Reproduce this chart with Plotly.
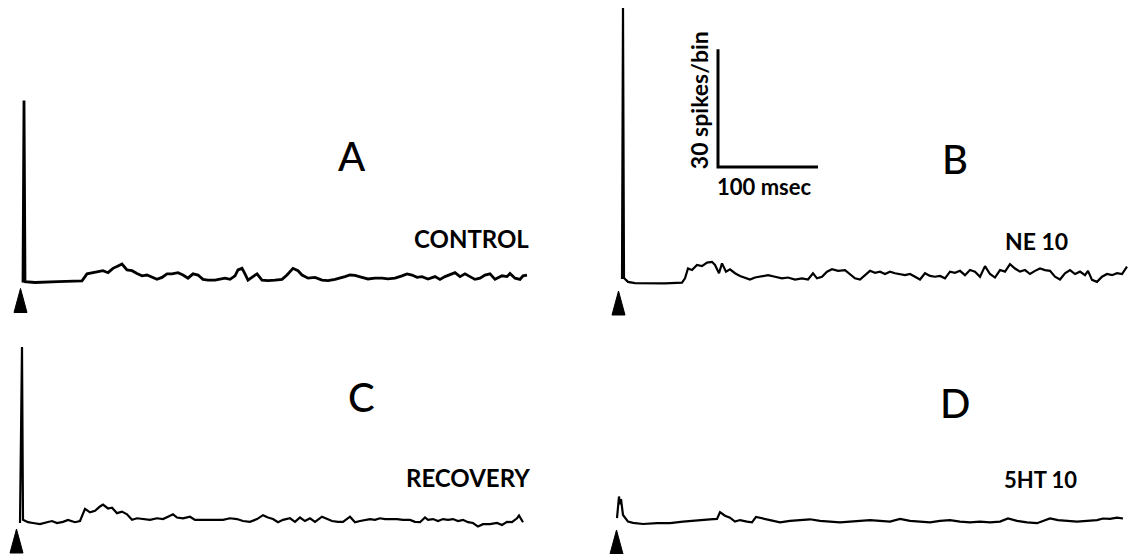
import plotly.graph_objects as go

# ---------------- data (time in ms from stimulus, counts in spikes/bin) ----------------
t_A = [-1, 0, 1, 11, 34, 58, 63, 68, 74, 79, 84, 89, 94, 98, 103, 108, 113, 118, 123, 128, 133, 138,
       143, 148, 154, 159, 164, 169, 174, 179, 184, 191, 196, 201, 206, 211, 214, 218, 221, 224, 229,
       233, 238, 244, 251, 258, 263, 266, 269, 274, 278, 284, 291, 298, 304, 311, 316, 321, 326, 331,
       338, 344, 351, 358, 364, 371, 378, 383, 388, 393, 398, 404, 411, 416, 421, 426, 431, 436, 441,
       446, 451, 456, 461, 466, 471, 478, 483, 486, 491, 496, 499, 503]
v_A = [0, 46.3, 0.2, 0, 0.2, 0.4, 2.2, 2.5, 2.8, 3.0, 2.5, 3.6, 4.2, 4.7, 3.2, 3.0, 2.3, 1.7, 1.9, 1.3,
       0.8, 1.3, 2.2, 2.2, 2.5, 1.9, 1.1, 2.2, 1.9, 0.8, 0.6, 0.6, 0.8, 1.1, 0.8, 1.7, 3.2, 3.6, 2.2,
       0.6, 1.5, 2.2, 0.6, 0.5, 0.6, 0.8, 1.9, 2.8, 3.6, 3.0, 1.9, 1.1, 1.3, 0.6, 0.5, 0.8, 1.1, 1.5,
       1.9, 1.8, 1.3, 0.9, 1.1, 1.1, 0.9, 1.1, 1.7, 2.2, 1.9, 1.3, 1.5, 0.9, 1.5, 0.8, 1.5, 1.9, 2.5,
       1.5, 2.2, 1.5, 0.8, 1.1, 1.9, 2.2, 0.8, 1.7, 1.5, 2.3, 1.1, 0.8, 1.7, 1.9]

t_B = [0, 1, 2, 6, 13, 26, 43, 60, 63, 66, 70, 75, 80, 85, 90, 93, 97, 100, 104, 108, 113, 118, 123,
       128, 133, 140, 146, 153, 160, 166, 173, 180, 186, 191, 195, 200, 205, 210, 216, 223, 228, 233,
       238, 243, 248, 253, 258, 263, 268, 273, 278, 283, 288, 293, 298, 303, 308, 313, 318, 323, 328,
       333, 338, 343, 348, 353, 358, 363, 368, 373, 378, 383, 388, 393, 398, 403, 408, 413, 418, 423,
       428, 433, 438, 443, 448, 453, 458, 463, 466, 470, 475, 480, 485, 490, 495, 500, 505]
v_B = [1.5, 70.5, 1.8, 0.8, 0.5, 0.4, 0.4, 0.6, 1.7, 4.2, 3.8, 5.1, 4.8, 5.7, 5.9, 5.1, 3.0, 5.5, 3.4,
       4.0, 3.0, 2.3, 1.9, 1.4, 1.9, 2.3, 2.5, 2.1, 1.7, 1.9, 1.4, 1.7, 1.4, 3.0, 1.7, 2.1, 3.4, 4.0,
       3.6, 3.8, 2.8, 1.7, 1.4, 2.5, 3.6, 3.1, 3.4, 2.8, 3.4, 3.0, 2.8, 2.5, 2.8, 2.1, 1.4, 3.0, 2.3,
       2.1, 2.3, 1.7, 3.4, 3.1, 3.6, 2.5, 3.8, 3.4, 2.1, 4.8, 2.8, 1.9, 3.8, 3.4, 5.3, 4.2, 3.4, 3.8,
       2.8, 3.6, 4.2, 3.8, 3.6, 2.1, 1.4, 3.0, 3.8, 2.8, 3.4, 2.5, 3.6, 1.3, 0.8, 2.1, 2.8, 2.5, 3.0,
       2.8, 4.7]

t_C = [0, 2, 3, 8, 13, 20, 27, 32, 37, 43, 48, 55, 60, 65, 70, 75, 80, 83, 88, 92, 97, 102, 107, 112,
       117, 123, 130, 137, 143, 148, 153, 157, 163, 170, 175, 183, 193, 203, 210, 217, 223, 230, 237,
       243, 248, 253, 258, 263, 270, 275, 280, 285, 290, 295, 302, 307, 312, 318, 323, 330, 335, 340,
       345, 350, 355, 360, 365, 370, 377, 383, 390, 395, 400, 405, 408, 413, 418, 423, 428, 433, 438,
       443, 448, 453, 458, 463, 470, 477, 482, 487, 492, 497, 499, 503]
v_C = [0, 44.8, 0.8, 0.2, 0, -0.3, 0.2, 0.5, 0, 0.3, 0.8, 0.2, 0.5, 3.6, 2.7, 3.1, 4.2, 4.7, 3.7, 3.9,
       2.5, 2.9, 2.2, 0.8, 1.2, 1.0, 0.8, 1.2, 1.0, 1.6, 2.2, 1.4, 1.2, 1.6, 0.8, 0.8, 0.8, 0.8, 1.2,
       1.0, 0.5, 0.3, 1.0, 2.0, 1.4, 1.0, 0.2, 0.8, 1.2, 0.3, 1.4, 0.5, 1.2, 0.3, 1.6, 1.0, 0.5, 0.3,
       0.3, 1.6, 0.2, 0.5, 0.8, 1.0, 0.8, 1.2, 1.0, 1.0, 1.0, 0.8, 0.8, 0.3, 0.2, 1.4, 0.8, 1.0, 0.5,
       1.0, 0.8, 1.0, 0.5, 0.8, 0.2, 0, -0.9, -0.3, -0.3, 0, -0.5, 0.3, 0.2, 1.2, 1.9, 0.2]

t_D = [-3, -1, 0, 1, 3, 8, 13, 23, 37, 50, 63, 77, 90, 97, 100, 105, 110, 115, 120, 127, 132, 136, 142,
       150, 160, 170, 180, 190, 200, 210, 220, 230, 240, 250, 260, 270, 280, 290, 300, 310, 320, 330,
       340, 350, 360, 370, 380, 388, 397, 407, 417, 423, 430, 438, 447, 457, 467, 477, 483, 490, 497, 503]
v_D = [1.5, 7.0, 5.0, 6.3, 2.3, 0.6, 0.3, 0, 0.2, 0.2, 0.6, 1.0, 1.2, 1.3, 3.0, 2.1, 1.6, 0.6, 1.0, 0.6,
       0.4, 1.8, 1.4, 1.0, 0.4, 0.8, 1.0, 1.2, 0.8, 0.6, 0.4, 0.6, 0.8, 1.0, 0.8, 0.6, 1.3, 0.8, 0.6,
       0.4, 0.8, 1.0, 0.6, 0.4, 0.6, 0.4, 0.6, 1.4, 0.8, 0.4, 0.2, 0.8, 1.4, 1.0, 0.8, 0.6, 0.8, 1.0,
       1.4, 1.3, 1.6, 1.4]

panel_letters = ["A", "B", "C", "D"]
conditions = ["CONTROL", "NE 10", "RECOVERY", "5HT 10"]
stim_t = 0                 # stimulus time (arrowhead)
scale_ms = 100             # calibration bar
scale_spikes = 30
scale_label_y = "30 spikes/bin"
scale_label_x = "100 msec"

# ---------------- layout constants (pixels) ----------------
W, H = 1142, 554
KX = 1.0     # px per ms
KY = 3.93    # px per spike/bin
FONT = "Lato"

panels = [
    dict(t=t_A, v=v_A, ox=24, oy=282.5, L=0, R=W / 2, lw=2.8,
         letter=(352, 156), cond=(471, 238), csize=24),
    dict(t=t_B, v=v_B, ox=622, oy=285, L=W / 2, R=W, lw=2.2,
         letter=(955, 159), cond=(1036, 241), csize=23),
    dict(t=t_C, v=v_C, ox=20, oy=523, L=0, R=W / 2, lw=2.2,
         letter=(361, 397), cond=(468, 477), csize=24),
    dict(t=t_D, v=v_D, ox=620, oy=524, L=W / 2, R=W, lw=2.2,
         letter=(955, 403), cond=(1040, 479), csize=22),
]

fig = go.Figure()
annotations = []
shapes = []
for i, p in enumerate(panels):
    n = "" if i == 0 else str(i + 1)
    xa, ya = "x" + n, "y" + n
    fig.add_trace(go.Scatter(
        x=p["t"], y=p["v"], mode="lines",
        line=dict(color="black", width=p["lw"]),
        xaxis=xa, yaxis=ya, hoverinfo="skip", showlegend=False))
    fig.update_layout(**{
        "xaxis" + n: dict(domain=[p["L"] / W, p["R"] / W],
                          range=[(p["L"] - p["ox"]) / KX, (p["R"] - p["ox"]) / KX],
                          visible=False, anchor=ya, fixedrange=True),
        "yaxis" + n: dict(domain=[0, 1],
                          range=[-(H - p["oy"]) / KY, p["oy"] / KY],
                          visible=False, anchor=xa, fixedrange=True),
    })
    # stimulus arrowhead below the trace at stimulus time
    shapes.append(dict(type="path", xref=xa, yref=ya,
                       xsizemode="pixel", ysizemode="pixel",
                       xanchor=stim_t, yanchor=0,
                       path="M -10 -30 L 3 -30 L -3.5 -6 Z",
                       fillcolor="black", line=dict(color="black", width=1)))
    lx, ly = p["letter"]
    annotations.append(dict(text=panel_letters[i], x=lx / W, y=1 - ly / H,
                            xref="paper", yref="paper", showarrow=False,
                            xanchor="center", yanchor="middle",
                            font=dict(family=FONT, size=40, color="black", weight=500)))
    cx, cy = p["cond"]
    annotations.append(dict(text=conditions[i], x=cx / W, y=1 - cy / H,
                            xref="paper", yref="paper", showarrow=False,
                            xanchor="center", yanchor="middle",
                            font=dict(family=FONT, size=p["csize"], color="black", weight="bold")))

# calibration bar in panel B
sb_t0, sb_v0 = 96, 30
fig.add_trace(go.Scatter(
    x=[sb_t0, sb_t0, sb_t0 + scale_ms],
    y=[sb_v0 + scale_spikes, sb_v0, sb_v0],
    mode="lines", line=dict(color="black", width=3),
    xaxis="x2", yaxis="y2", hoverinfo="skip", showlegend=False))
annotations.append(dict(text=scale_label_y, x=sb_t0, y=sb_v0 + scale_spikes / 2,
                        xref="x2", yref="y2", showarrow=False, textangle=-90,
                        xanchor="center", yanchor="middle", xshift=-19, yshift=8,
                        font=dict(family=FONT, size=23, color="black", weight="bold")))
annotations.append(dict(text=scale_label_x, x=sb_t0, y=sb_v0,
                        xref="x2", yref="y2", showarrow=False,
                        xanchor="left", yanchor="top", xshift=-3, yshift=-4,
                        font=dict(family=FONT, size=22, color="black", weight="bold")))

fig.update_layout(width=W, height=H, margin=dict(l=0, r=0, t=0, b=0),
                  paper_bgcolor="white", plot_bgcolor="rgba(0,0,0,0)",
                  annotations=annotations, shapes=shapes, showlegend=False)

fig.write_html("out.html", config={"displayModeBar": False})
